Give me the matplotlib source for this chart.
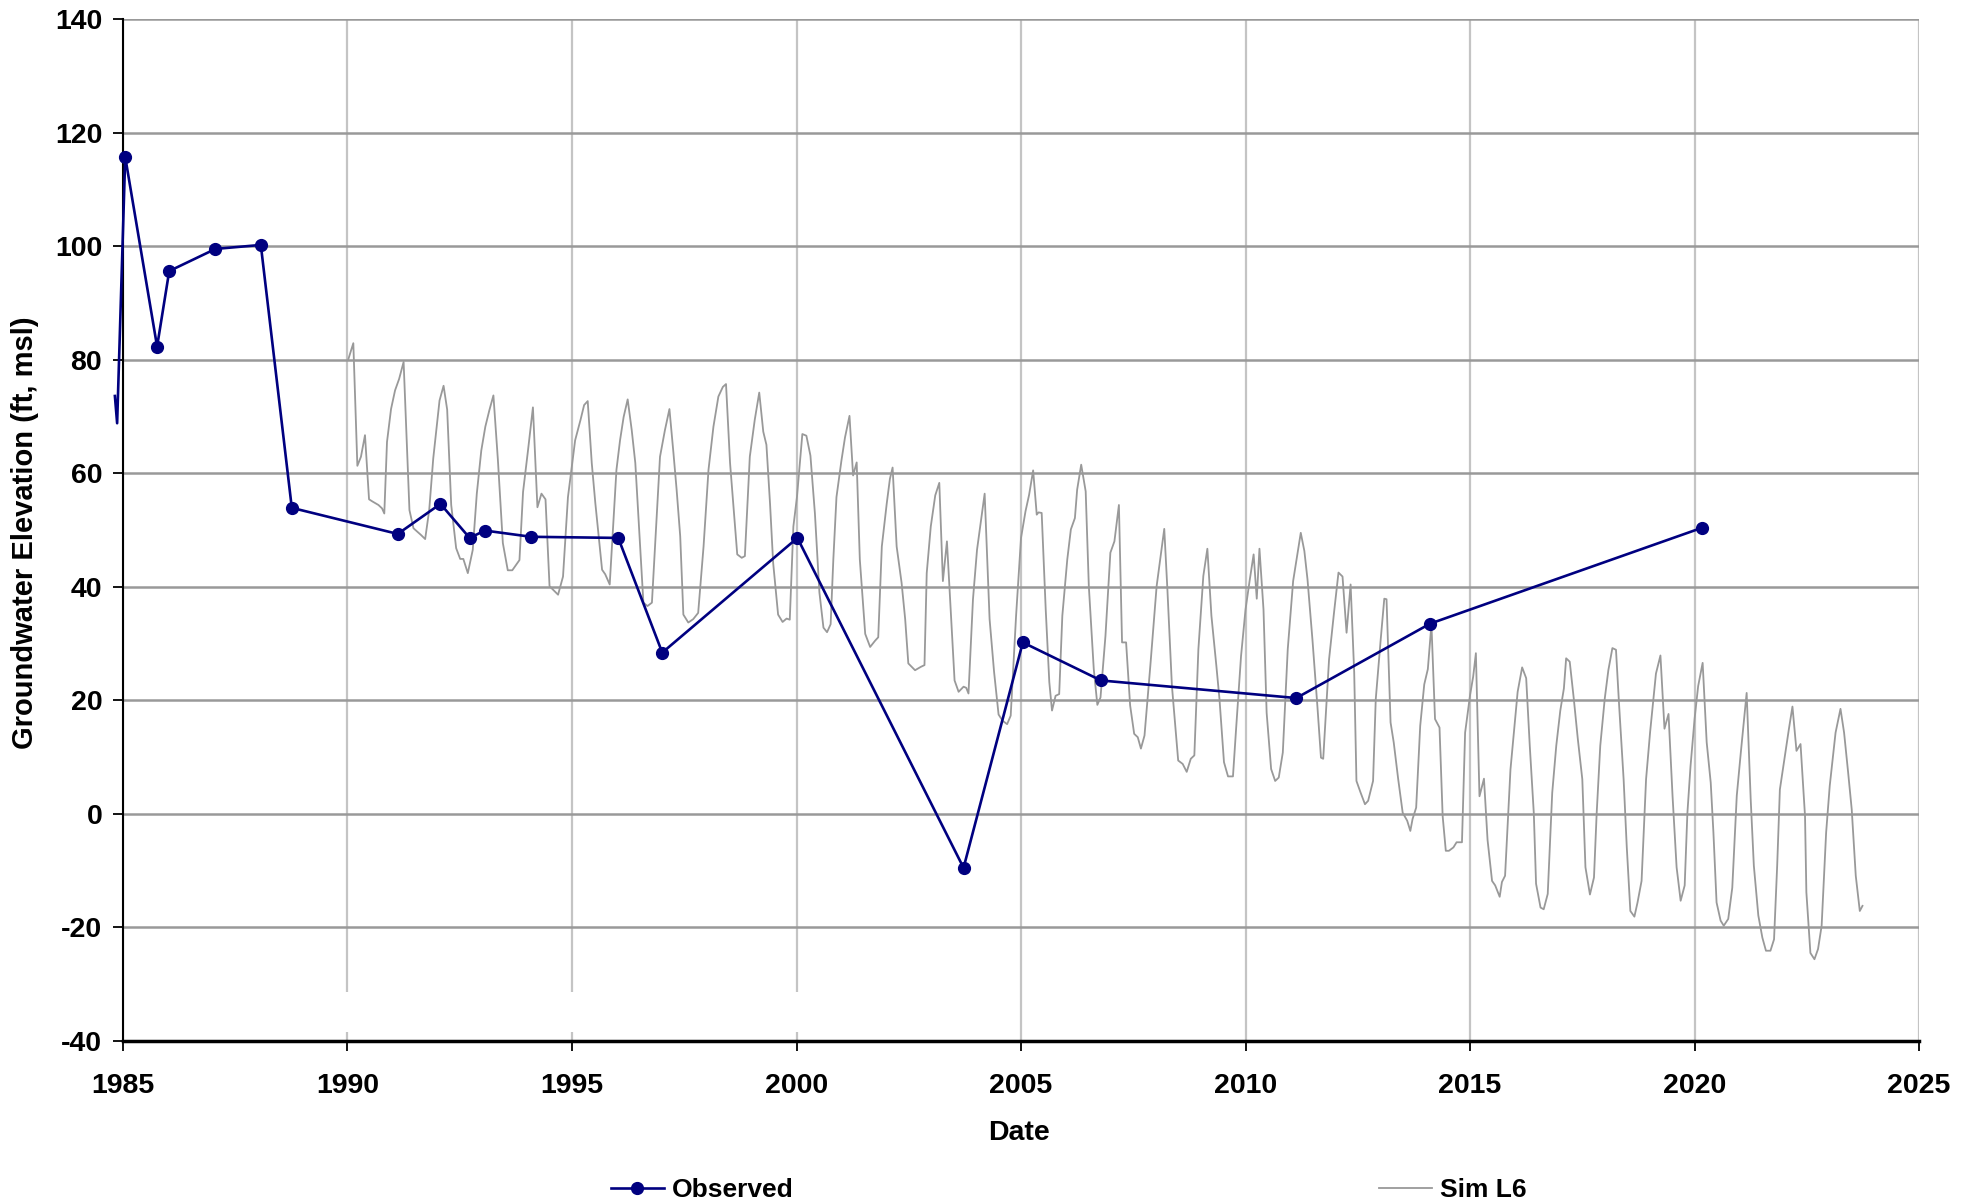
import numpy as np
import matplotlib
matplotlib.use('Agg')
import matplotlib.pyplot as plt

plt.rcParams['font.family'] = ['Liberation Sans', 'DejaVu Sans']
plt.rcParams['font.weight'] = 'bold'
plt.rcParams['axes.unicode_minus'] = False

# observed groundwater elevations (decimal year, ft msl)
obs_dates = [1984.82, 1984.87, 1985.05, 1985.76, 1986.03, 1987.06, 1988.07, 1988.76,
             1991.12, 1992.07, 1992.72, 1993.06, 1994.09, 1996.03, 1997.01, 2000.02,
             2003.72, 2005.04, 2006.78, 2011.13, 2014.11, 2020.17]
obs_elev = [73.6, 68.8, 115.7, 82.3, 95.6, 99.5, 100.2, 53.9,
            49.3, 54.6, 48.6, 49.9, 48.8, 48.6, 28.4, 48.6,
            -9.5, 30.2, 23.5, 20.4, 33.5, 50.4]

# simulated layer 6 heads
sim_dates = [
    1990.02, 1990.13, 1990.22, 1990.30, 1990.39, 1990.48, 1990.56, 1990.69, 1990.77, 1990.82,
    1990.88, 1990.97, 1991.06, 1991.15, 1991.25, 1991.38, 1991.47, 1991.64, 1991.73, 1991.82,
    1991.91, 1992.05, 1992.14, 1992.22, 1992.31, 1992.42, 1992.51, 1992.58, 1992.68, 1992.79,
    1992.88, 1992.98, 1993.07, 1993.16, 1993.25, 1993.35, 1993.46, 1993.57, 1993.67, 1993.83,
    1993.91, 1994.02, 1994.13, 1994.23, 1994.32, 1994.41, 1994.50, 1994.69, 1994.80, 1994.91,
    1995.07, 1995.19, 1995.27, 1995.35, 1995.44, 1995.52, 1995.67, 1995.74, 1995.84, 1995.99,
    1996.07, 1996.15, 1996.24, 1996.33, 1996.41, 1996.59, 1996.68, 1996.78, 1996.85, 1996.96,
    1997.07, 1997.17, 1997.26, 1997.33, 1997.41, 1997.48, 1997.59, 1997.70, 1997.81, 1997.93,
    1998.04, 1998.15, 1998.26, 1998.36, 1998.43, 1998.52, 1998.68, 1998.78, 1998.85, 1998.96,
    1999.07, 1999.17, 1999.26, 1999.33, 1999.41, 1999.48, 1999.59, 1999.69, 1999.78, 1999.85,
    1999.93, 2000.01, 2000.13, 2000.22, 2000.31, 2000.41, 2000.51, 2000.60, 2000.68, 2000.76,
    2000.82, 2000.89, 2001.00, 2001.08, 2001.18, 2001.26, 2001.34, 2001.41, 2001.53, 2001.64,
    2001.75, 2001.82, 2001.90, 2002.01, 2002.08, 2002.14, 2002.23, 2002.34, 2002.42, 2002.49,
    2002.64, 2002.77, 2002.85, 2002.90, 2002.99, 2003.09, 2003.18, 2003.26, 2003.35, 2003.42,
    2003.52, 2003.61, 2003.72, 2003.78, 2003.83, 2003.93, 2004.02, 2004.11, 2004.19, 2004.30,
    2004.40, 2004.50, 2004.59, 2004.69, 2004.77, 2004.89, 2005.00, 2005.10, 2005.18, 2005.27,
    2005.35, 2005.39, 2005.46, 2005.55, 2005.63, 2005.69, 2005.77, 2005.85, 2005.92, 2006.03,
    2006.11, 2006.20, 2006.25, 2006.34, 2006.44, 2006.51, 2006.62, 2006.70, 2006.77, 2006.88,
    2006.99, 2007.08, 2007.18, 2007.25, 2007.34, 2007.43, 2007.52, 2007.60, 2007.67, 2007.75,
    2007.88, 2008.02, 2008.10, 2008.19, 2008.26, 2008.36, 2008.50, 2008.60, 2008.69, 2008.78,
    2008.86, 2008.95, 2009.06, 2009.15, 2009.24, 2009.35, 2009.42, 2009.52, 2009.61, 2009.72,
    2009.79, 2009.90, 2010.00, 2010.09, 2010.18, 2010.25, 2010.31, 2010.40, 2010.47, 2010.57,
    2010.66, 2010.74, 2010.83, 2010.94, 2011.06, 2011.16, 2011.23, 2011.31, 2011.38, 2011.49,
    2011.60, 2011.68, 2011.73, 2011.86, 2011.97, 2012.07, 2012.16, 2012.25, 2012.34, 2012.42,
    2012.47, 2012.56, 2012.66, 2012.73, 2012.84, 2012.90, 2013.01, 2013.09, 2013.14, 2013.23,
    2013.30, 2013.40, 2013.50, 2013.60, 2013.67, 2013.72, 2013.80, 2013.89, 2013.98, 2014.06,
    2014.14, 2014.22, 2014.32, 2014.39, 2014.46, 2014.53, 2014.63, 2014.70, 2014.82, 2014.89,
    2015.00, 2015.07, 2015.13, 2015.21, 2015.31, 2015.39, 2015.49, 2015.56, 2015.66, 2015.71,
    2015.78, 2015.90, 2015.99, 2016.06, 2016.16, 2016.25, 2016.33, 2016.42, 2016.47, 2016.57,
    2016.64, 2016.73, 2016.83, 2016.92, 2017.01, 2017.09, 2017.14, 2017.22, 2017.31, 2017.40,
    2017.50, 2017.57, 2017.67, 2017.76, 2017.82, 2017.90, 2018.00, 2018.08, 2018.17, 2018.25,
    2018.32, 2018.42, 2018.49, 2018.57, 2018.66, 2018.73, 2018.82, 2018.92, 2019.01, 2019.14,
    2019.24, 2019.33, 2019.42, 2019.51, 2019.60, 2019.69, 2019.78, 2019.84, 2019.91, 2020.00,
    2020.08, 2020.18, 2020.27, 2020.36, 2020.42, 2020.49, 2020.58, 2020.65, 2020.75, 2020.84,
    2020.94, 2021.03, 2021.16, 2021.25, 2021.32, 2021.42, 2021.51, 2021.59, 2021.69, 2021.77,
    2021.84, 2021.90, 2022.01, 2022.10, 2022.18, 2022.27, 2022.36, 2022.46, 2022.49, 2022.58,
    2022.67, 2022.75, 2022.83, 2022.93, 2023.01, 2023.14, 2023.25, 2023.33, 2023.42, 2023.50,
    2023.59, 2023.68, 2023.74]
sim_elev = [
    80.1, 82.9, 61.3, 62.9, 66.7, 55.4, 55.0, 54.4, 53.8, 52.9,
    65.5, 71.3, 74.6, 76.6, 79.6, 53.5, 50.3, 49.1, 48.4, 53.5,
    62.6, 72.8, 75.4, 71.2, 54.4, 46.8, 44.9, 44.9, 42.4, 46.5,
    56.4, 64.0, 68.2, 71.1, 73.7, 62.3, 47.7, 42.9, 42.9, 44.7,
    56.7, 64.0, 71.6, 54.0, 56.4, 55.4, 40.1, 38.6, 41.8, 55.8,
    65.8, 69.4, 72.0, 72.7, 61.8, 54.7, 43.0, 42.2, 40.4, 60.6,
    65.8, 69.9, 73.0, 67.6, 61.8, 37.2, 36.6, 37.2, 47.1, 62.9,
    67.6, 71.3, 63.5, 57.1, 48.9, 35.1, 33.7, 34.3, 35.4, 47.1,
    60.6, 68.2, 73.5, 75.2, 75.7, 61.8, 45.7, 45.1, 45.4, 62.9,
    69.4, 74.2, 67.3, 65.0, 54.7, 44.2, 35.1, 33.8, 34.4, 34.2,
    50.6, 55.8, 66.9, 66.6, 63.1, 52.9, 39.0, 32.8, 32.0, 33.4,
    44.8, 55.8, 62.2, 66.3, 70.1, 59.6, 61.9, 44.8, 31.7, 29.4,
    30.5, 31.1, 47.1, 54.7, 59.0, 61.0, 47.1, 40.7, 34.3, 26.5,
    25.3, 25.9, 26.2, 42.4, 50.6, 56.1, 58.3, 41.0, 48.0, 37.8,
    23.5, 21.5, 22.4, 22.2, 21.2, 37.8, 46.5, 51.7, 56.4, 34.3,
    25.0, 17.5, 16.4, 15.8, 17.3, 34.9, 48.6, 53.3, 56.2, 60.5,
    52.7, 53.1, 53.0, 36.0, 23.2, 18.2, 20.8, 21.1, 34.9, 44.8,
    50.1, 52.1, 57.1, 61.5, 56.8, 40.1, 25.5, 19.2, 20.5, 31.3,
    46.0, 48.0, 54.4, 30.2, 30.2, 19.1, 14.1, 13.5, 11.5, 13.8,
    26.1, 40.1, 44.8, 50.2, 39.5, 22.6, 9.4, 8.8, 7.4, 9.7,
    10.3, 29.0, 41.9, 46.7, 34.9, 26.1, 20.2, 9.1, 6.6, 6.6,
    15.0, 27.8, 36.0, 41.0, 45.7, 37.9, 46.7, 36.0, 17.8, 7.9,
    5.8, 6.4, 10.8, 29.0, 41.0, 46.0, 49.5, 46.3, 41.3, 30.7,
    19.0, 9.9, 9.7, 27.2, 35.4, 42.5, 41.8, 31.9, 40.4, 24.9,
    5.8, 3.8, 1.7, 2.3, 5.8, 20.2, 30.7, 37.9, 37.8, 16.1,
    12.6, 6.1, 0.2, -1.2, -3.0, -0.9, 1.1, 15.5, 22.8, 25.5,
    33.4, 16.7, 15.2, -0.4, -6.5, -6.5, -5.9, -5.0, -5.0, 14.3,
    20.9, 24.2, 28.3, 3.1, 6.2, -4.6, -11.8, -12.6, -14.6, -12.0,
    -10.9, 7.8, 15.5, 21.5, 25.8, 23.9, 12.0, 0.1, -12.3, -16.5,
    -16.8, -14.1, 3.7, 12.0, 18.2, 22.1, 27.4, 26.8, 20.3, 13.2,
    6.1, -9.4, -14.2, -11.2, 0.1, 12.0, 20.3, 25.3, 29.2, 28.9,
    19.1, 6.1, -5.8, -17.1, -18.1, -15.6, -11.8, 6.1, 14.4, 24.7,
    27.9, 15.0, 17.6, 3.1, -9.4, -15.3, -12.6, 0.1, 8.4, 16.7,
    22.5, 26.6, 12.6, 5.5, -3.3, -15.6, -18.8, -19.7, -18.5, -13.0,
    3.2, 10.8, 21.3, 2.6, -9.1, -17.9, -21.8, -24.1, -24.1, -22.1,
    -9.1, 4.3, 10.2, 14.9, 18.9, 11.1, 12.3, -0.4, -13.8, -24.5,
    -25.6, -23.8, -19.7, -3.3, 4.9, 14.3, 18.5, 14.3, 7.3, 0.8,
    -10.9, -17.1, -16.2]

x_ticks = np.arange(1985, 2026, 5)
y_ticks = np.arange(-40, 141, 20)

fig = plt.figure(figsize=(19.77, 12), dpi=100)
ax = fig.add_axes([0.0622, 0.1325, 0.9085, 0.8517])

ax.plot(sim_dates, sim_elev, color='#999999', lw=1.3, label='Sim L6', zorder=2)
# first readings sit just before the axis start: line only, no markers
ax.plot(obs_dates[:3], obs_elev[:3], color='#000080', lw=1.9, clip_on=False, zorder=3)
obs_line, = ax.plot(obs_dates[2:], obs_elev[2:], color='#000080', lw=1.9, marker='o',
                    markersize=8.5, clip_on=False, label='Observed', zorder=3)

ax.set_xlim(1985, 2025)
ax.set_ylim(-40, 140)
ax.set_xticks(x_ticks)
ax.set_yticks(y_ticks)

ax.set_axisbelow(True)
ax.yaxis.grid(True, color='#999999', lw=1.8)
ax.xaxis.grid(True, color='#c4c4c4', lw=1.6)
# the early vertical gridlines have a gap near the bottom in the original
ax.vlines(x_ticks[1:4], -38.5, -31.3, color='white', lw=4, zorder=1)

for s in ['top', 'right']:
    ax.spines[s].set_visible(False)
ax.spines['left'].set_linewidth(1.5)
ax.spines['bottom'].set_linewidth(2.5)
ax.tick_params(axis='both', direction='out', length=7, width=1.3, labelsize=20.5)
ax.tick_params(axis='y', pad=8)
ax.tick_params(axis='x', pad=16)

ax.set_xlabel('Date', fontsize=20.5, fontweight='bold')
ax.set_ylabel('Groundwater Elevation (ft, msl)', fontsize=21, fontweight='bold')
ax.xaxis.set_label_coords(0.499, -0.077)
ax.yaxis.set_label_coords(-0.047, 0.497)

fig.legend(handles=[obs_line, ax.lines[0]], labels=['Observed', 'Sim L6'],
           loc='center', bbox_to_anchor=(0.5405, 0.008), ncol=2, frameon=False,
           fontsize=19, columnspacing=22.2, handlelength=2.0, handletextpad=0.3)

fig.savefig('out.png', dpi=100)
